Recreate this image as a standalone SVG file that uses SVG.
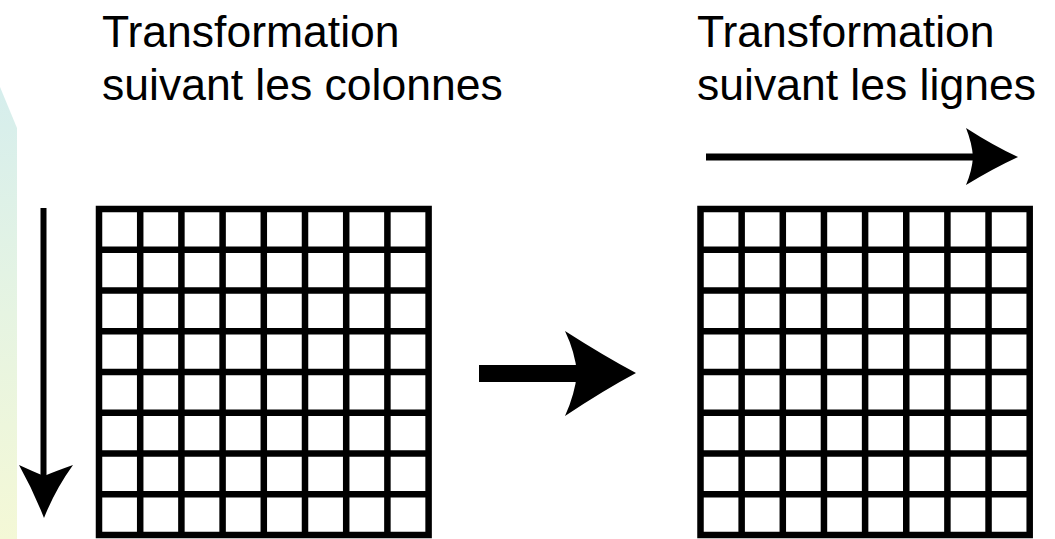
<svg xmlns="http://www.w3.org/2000/svg" width="1055" height="539" viewBox="0 0 1055 539">
  <defs>
    <linearGradient id="band" x1="0" y1="0" x2="0" y2="1">
      <stop offset="0" stop-color="#d6eeed"/>
      <stop offset="0.5" stop-color="#e6f4e2"/>
      <stop offset="1" stop-color="#f4f8d6"/>
    </linearGradient>
    <style>
      .label { font-family: "Liberation Sans", Arial, sans-serif; font-size: 44.5px; fill: #000; }
      .grid { fill: none; stroke: #000; stroke-width: 6.5; stroke-linecap: square; }
      .shaft { stroke: #000; fill: none; }
      .head { fill: #000; stroke: none; }
    </style>
  </defs>

  <rect width="1055" height="539" fill="#ffffff"/>
  <!-- pale tinted band on the left edge -->
  <path d="M0,87 L17,128 L17,539 L0,539 Z" fill="url(#band)"/>

  <!-- column transform panel -->
  <g id="columns-panel">
    <text class="label" x="102" y="47">Transformation</text>
    <text class="label" x="102" y="100">suivant les colonnes</text>
    <path class="grid" d="M99,209 H428.6 V535 H99 Z
      M140.2,209 V535 M181.4,209 V535 M222.6,209 V535 M263.8,209 V535 M305,209 V535 M346.2,209 V535 M387.4,209 V535
      M99,249.75 H428.6 M99,290.5 H428.6 M99,331.25 H428.6 M99,372 H428.6 M99,412.75 H428.6 M99,453.5 H428.6 M99,494.25 H428.6"/>
  </g>

  <!-- row transform panel -->
  <g id="rows-panel">
    <text class="label" x="697" y="47">Transformation</text>
    <text class="label" x="697" y="100">suivant les lignes</text>
    <path class="grid" d="M700.5,209 H1029.7 V535 H700.5 Z
      M741.65,209 V535 M782.8,209 V535 M823.95,209 V535 M865.1,209 V535 M906.25,209 V535 M947.4,209 V535 M988.55,209 V535
      M700.5,249.75 H1029.7 M700.5,290.5 H1029.7 M700.5,331.25 H1029.7 M700.5,372 H1029.7 M700.5,412.75 H1029.7 M700.5,453.5 H1029.7 M700.5,494.25 H1029.7"/>
  </g>

  <g id="connectors">
    <!-- downward arrow beside the column grid -->
    <line class="shaft" x1="43.5" y1="208" x2="43.5" y2="478" stroke-width="6"/>
    <path class="head" d="M19,465 Q32,471 44,476 Q56,471 73,465 Q55,490 44,518 Q33,490 19,465 Z"/>

    <!-- thick arrow between the two grids -->
    <rect x="479" y="365" width="98" height="17" fill="#000"/>
    <path class="head" d="M565,331 Q604,356 636,373 Q604,390 565,416 Q575,394 577,373 Q575,352 565,331 Z"/>

    <!-- rightward arrow above the row grid -->
    <line class="shaft" x1="706" y1="157" x2="975" y2="157" stroke-width="7"/>
    <path class="head" d="M966,128 Q994,146 1018,157 Q994,168 966,185 Q972,171 973,157 Q972,143 966,128 Z"/>
  </g>
</svg>
